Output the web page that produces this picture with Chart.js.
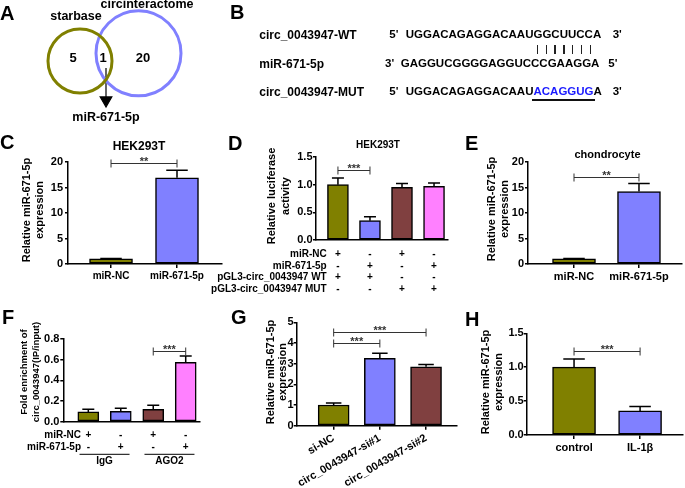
<!DOCTYPE html>
<html lang="en">
<head>
<meta charset="UTF-8" />
<title>circ_0043947 / miR-671-5p</title>
<script src="https://cdn.jsdelivr.net/npm/chart.js"></script>
<style>
  html, body { margin: 0; padding: 0; background: #fff; }
  #fig { position: relative; width: 685px; height: 488px; overflow: hidden; background: #fff;
         font-family: "Liberation Sans", Arial, Helvetica, sans-serif; font-weight: bold; color: #000; }
  #fig canvas { position: absolute; left: 0; top: 0; }
  .t { position: absolute; white-space: pre; line-height: 1; }
  .pl { font-size: 20px; }
  .pair { position: absolute; width: 1.2px; height: 9px; background: #222; }
</style>
</head>
<body>
<div id="fig">
  <canvas id="venn" width="685" height="488"></canvas>
  <canvas id="chC" width="685" height="488"></canvas>
  <canvas id="chD" width="685" height="488"></canvas>
  <canvas id="chE" width="685" height="488"></canvas>
  <canvas id="chF" width="685" height="488"></canvas>
  <canvas id="chG" width="685" height="488"></canvas>
  <canvas id="chH" width="685" height="488"></canvas>

  <div class="t pl" style="left:0px;top:3px">A</div>
  <div class="t pl" style="left:230px;top:2px">B</div>
  <div class="t pl" style="left:0px;top:132px">C</div>
  <div class="t pl" style="left:228px;top:133px">D</div>
  <div class="t pl" style="left:465px;top:133px">E</div>
  <div class="t pl" style="left:2px;top:307px">F</div>
  <div class="t pl" style="left:231px;top:307px">G</div>
  <div class="t pl" style="left:465px;top:309px">H</div>

  <div id="seqB"></div>
</div>

<script>
  const FONT = '"Liberation Sans", Arial, Helvetica, sans-serif';
  const W = 685, H = 488;

  // ---- A: venn
  const vennSets = ['starbase', 'circinteractome'];
  const vennCounts = [5, 1, 20];
  const vennTarget = 'miR-671-5p';

  // ---- B: sequences
  const seqNames = ['circ_0043947-WT', 'miR-671-5p', 'circ_0043947-MUT'];
  const seqWT = 'UGGACAGAGGACAAUGGCUUCCA';
  const seqMiR = 'GAGGUCGGGGAGGUCCCGAAGGA';
  const seqMutHead = 'UGGACAGAGGACAAU';
  const seqMutSite = 'ACAGGUG';
  const seqMutTail = 'A';

  // ---- C
  const cLabels = ['miR-NC', 'miR-671-5p'];
  const cMean = [1.0, 16.9];
  const cSd = [0.1, 1.5];
  const cSig = [{ from: 0, to: 1, stars: '**', at: 19.9 }];

  // ---- D
  const dMean = [1.0, 0.35, 0.95, 0.97];
  const dSd = [0.12, 0.07, 0.07, 0.06];
  const dRows = ['miR-NC', 'miR-671-5p', 'pGL3-circ_0043947 WT', 'pGL3-circ_0043947 MUT'];
  const dSigns = [['+', '-', '+', '-'], ['-', '+', '-', '+'], ['+', '+', '-', '-'], ['-', '-', '+', '+']];
  const dSig = [{ from: 0, to: 1, stars: '***', at: 1.265 }];

  // ---- E
  const eLabels = ['miR-NC', 'miR-671-5p'];
  const eMean = [1.0, 14.2];
  const eSd = [0.1, 1.6];
  const eSig = [{ from: 0, to: 1, stars: '**', at: 17.1 }];

  // ---- F
  const fMean = [0.095, 0.10, 0.12, 0.575];
  const fSd = [0.025, 0.03, 0.04, 0.06];
  const fRows = ['miR-NC', 'miR-671-5p'];
  const fSigns = [['+', '-', '+', '-'], ['-', '+', '-', '+']];
  const fGroups = [{ text: 'IgG', from: 0, to: 1 }, { text: 'AGO2', from: 2, to: 3 }];
  const fSig = [{ from: 2, to: 3, stars: '***', at: 0.68 }];

  // ---- G
  const gLabels = ['si-NC', 'circ_0043947-si#1', 'circ_0043947-si#2'];
  const gMean = [1.0, 3.26, 2.85];
  const gSd = [0.1, 0.24, 0.11];
  const gSig = [{ from: 0, to: 1, stars: '***', at: 3.98 }, { from: 0, to: 2, stars: '***', at: 4.54 }];

  // ---- H
  const hLabels = ['control', 'IL-1β'];
  const hMean = [1.0, 0.355];
  const hSd = [0.12, 0.065];
  const hSig = [{ from: 0, to: 1, stars: '***', at: 1.24 }];

  const OLIVE = '#808000', BLUE = '#8080FF', BROWN = '#804040', PINK = '#FF80FF';

  Chart.defaults.font.family = FONT;
  Chart.defaults.font.weight = 'bold';
  Chart.defaults.color = '#000';

  const bold = s => `bold ${s}px ${FONT}`;

  // error bars, significance brackets, titles, +/- tables
  const decor = {
    id: 'decor',
    afterDatasetsDraw(chart, args, o) {
      const { ctx, scales: { x, y } } = chart;
      const meta = chart.getDatasetMeta(0);
      const vals = chart.data.datasets[0].data;
      ctx.save();
      ctx.strokeStyle = '#000';
      ctx.lineWidth = 1.5;
      o.sd.forEach((s, i) => {
        const px = x.getPixelForValue(i);
        const top = y.getPixelForValue(vals[i].y);
        const end = y.getPixelForValue(vals[i].y + s);
        const half = Math.max(6, meta.data[i].width * 0.25);
        ctx.beginPath();
        ctx.moveTo(px, top); ctx.lineTo(px, end);
        ctx.moveTo(px - half, end); ctx.lineTo(px + half, end);
        ctx.stroke();
      });
      ctx.strokeStyle = '#333';
      ctx.fillStyle = '#333';
      ctx.lineWidth = 1;
      ctx.textAlign = 'center';
      ctx.textBaseline = 'alphabetic';
      ctx.font = bold(o.starSize || 11);
      (o.sig || []).forEach(b => {
        const x1 = x.getPixelForValue(b.from), x2 = x.getPixelForValue(b.to);
        const yy = Math.round(y.getPixelForValue(b.at)) + 0.5;
        ctx.beginPath();
        ctx.moveTo(x1, yy); ctx.lineTo(x2, yy);
        ctx.moveTo(x1, yy - 4); ctx.lineTo(x1, yy + 4);
        ctx.moveTo(x2, yy - 4); ctx.lineTo(x2, yy + 4);
        ctx.stroke();
        ctx.fillText(b.stars, (x1 + x2) / 2, yy + 1);
      });
      ctx.restore();
    },
    afterDraw(chart, args, o) {
      const { ctx, scales: { x } } = chart;
      ctx.save();
      ctx.fillStyle = '#000';
      ctx.textBaseline = 'middle';
      if (o.head) {
        ctx.font = bold(o.head.size);
        ctx.textAlign = 'center';
        ctx.fillText(o.head.text, o.head.x, o.head.y);
      }
      if (o.yTitle) {
        ctx.font = bold(o.yTitle.size);
        ctx.textAlign = 'center';
        o.yTitle.lines.forEach((t, i) => {
          ctx.save();
          ctx.translate(o.yTitle.x[i], o.yTitle.cy);
          ctx.rotate(-Math.PI / 2);
          ctx.fillText(t, 0, 0);
          ctx.restore();
        });
      }
      if (o.table) {
        ctx.font = bold(o.table.size);
        o.table.rows.forEach((r, k) => {
          const yy = o.table.y[k];
          ctx.textAlign = 'right';
          ctx.fillText(r, o.table.labelX, yy);
          ctx.textAlign = 'center';
          o.table.signs[k].forEach((s, i) => ctx.fillText(s, x.getPixelForValue(i), yy));
        });
      }
      if (o.groups) {
        const unit = x.getPixelForValue(1) - x.getPixelForValue(0);
        ctx.strokeStyle = '#000';
        ctx.lineWidth = 1;
        ctx.font = bold(o.groups.size);
        ctx.textAlign = 'center';
        o.groups.items.forEach(g => {
          const mid = (x.getPixelForValue(g.from) + x.getPixelForValue(g.to)) / 2;
          ctx.beginPath();
          ctx.moveTo(mid - 0.77 * unit, o.groups.lineY);
          ctx.lineTo(mid + 0.77 * unit, o.groups.lineY);
          ctx.stroke();
          ctx.fillText(g.text, mid, o.groups.textY);
        });
      }
      ctx.restore();
    }
  };

  function barPanel(id, lay, labels, mean, sd, colors, extra) {
    const yW = 34;               // y scale box width (tick labels are clipped to it)
    const xH = H - lay.bottom;   // x scale box runs to the bottom of the canvas
    return new Chart(document.getElementById(id), {
      type: 'bar',
      data: {
        datasets: [{
          data: mean.map((v, i) => ({ x: i, y: v })),
          backgroundColor: colors,
          borderColor: '#000',
          borderWidth: 1.5,
          borderSkipped: false,
          barThickness: lay.bar
        }]
      },
      options: {
        responsive: false,
        animation: false,
        events: [],
        layout: { autoPadding: false, padding: { left: lay.ax - yW, top: lay.top, right: W - lay.end, bottom: 0 } },
        plugins: {
          legend: { display: false },
          tooltip: { enabled: false },
          decor: Object.assign({ sd }, extra)
        },
        scales: {
          x: {
            type: 'linear',
            min: lay.min,
            max: lay.max,
            offset: false,
            afterBuildTicks: s => { s.ticks = mean.map((_, i) => ({ value: i })); },
            afterFit: s => { s.height = xH; s.paddingLeft = 0; s.paddingRight = 0; },
            border: { color: '#000', width: 1.5 },
            grid: { drawOnChartArea: false, drawTicks: lay.xTicks, tickLength: 4, color: '#000', lineWidth: 1.5, offset: false },
            ticks: {
              display: !!labels,
              autoSkip: false,
              padding: 2,
              color: '#000',
              font: { size: lay.xFont || 10, weight: 'bold' },
              minRotation: lay.rot || 0,
              maxRotation: lay.rot || 0,
              callback: v => (labels ? labels[Math.round(v)] : '')
            }
          },
          y: {
            min: 0,
            max: lay.yMax,
            afterFit: s => { s.width = yW; s.paddingTop = 0; s.paddingBottom = 0; },
            border: { color: '#000', width: 1.5 },
            grid: { drawOnChartArea: false, tickLength: 3, color: '#000', lineWidth: 1.5 },
            ticks: {
              stepSize: lay.step,
              padding: lay.yPad === undefined ? 1 : lay.yPad,
              color: '#000',
              font: { size: 11, weight: 'bold' },
              callback: v => Number(v).toFixed(lay.dec)
            }
          }
        }
      },
      plugins: [decor]
    });
  }

  // ---- A
  const vennText = {
    id: 'vennText',
    afterDatasetsDraw(chart, args, o) {
      const { ctx, scales: { x, y } } = chart;
      ctx.save();
      ctx.fillStyle = '#000';
      ctx.textAlign = 'center';
      ctx.textBaseline = 'middle';
      o.items.forEach(it => {
        ctx.font = bold(it.size);
        ctx.fillText(it.text, x.getPixelForValue(it.x), y.getPixelForValue(it.y));
      });
      ctx.restore();
    }
  };

  new Chart(document.getElementById('venn'), {
    type: 'bubble',
    data: {
      datasets: [
        { data: [{ x: 8.0, y: 6.1, r: 32 }], borderColor: OLIVE, backgroundColor: 'rgba(0,0,0,0)', borderWidth: 3, clip: false },
        { data: [{ x: 13.85, y: 5.33, r: 42.5 }], borderColor: BLUE, backgroundColor: 'rgba(0,0,0,0)', borderWidth: 3, clip: false },
        {
          type: 'line',
          data: [{ x: 10.6, y: 6.8 }, { x: 10.6, y: 10.03 }],
          borderColor: '#000', borderWidth: 1.2,
          pointRadius: [0, 6.7], pointStyle: 'triangle', pointRotation: 180,
          pointBackgroundColor: '#000', pointBorderColor: '#000', clip: false
        }
      ]
    },
    options: {
      responsive: false,
      animation: false,
      events: [],
      layout: { autoPadding: false, padding: { left: 0, top: 0, right: W - 230, bottom: H - 130 } },
      plugins: {
        legend: { display: false },
        tooltip: { enabled: false },
        vennText: {
          items: [
            { text: vennSets[0], x: 7.6, y: 1.7, size: 12.5 },
            { text: vennSets[1], x: 14.7, y: 0.45, size: 12.5 },
            { text: String(vennCounts[0]), x: 7.3, y: 5.8, size: 13 },
            { text: String(vennCounts[1]), x: 10.3, y: 5.8, size: 13 },
            { text: String(vennCounts[2]), x: 14.3, y: 5.8, size: 13 },
            { text: vennTarget, x: 10.6, y: 11.8, size: 12.5 }
          ]
        }
      },
      scales: {
        x: { type: 'linear', display: false, min: 0, max: 23 },
        y: { type: 'linear', display: false, min: 0, max: 13, reverse: true }
      }
    },
    plugins: [vennText]
  });

  // ---- B (text)
  (function () {
    const host = document.getElementById('seqB');
    const put = (html, left, cy, size) => {
      const d = document.createElement('div');
      d.className = 't';
      d.style.fontSize = size + 'px';
      d.style.left = left + 'px';
      d.style.top = (cy - 0.49 * size) + 'px';
      d.innerHTML = html;
      host.appendChild(d);
    };
    const rows = [35, 63.8, 91.5];
    const S = 11.5;
    put(seqNames[0], 259.3, rows[0], 12);
    put("5'", 389.3, rows[0], S);
    put(seqWT, 405.7, rows[0], S);
    put("3'", 612.7, rows[0], S);
    put(seqNames[1], 259.3, rows[1], 12);
    put("3'", 385, rows[1], S);
    put(seqMiR, 400.7, rows[1], S);
    put("5'", 608.3, rows[1], S);
    put(seqNames[2], 259.3, rows[2], 12);
    put("5'", 389.3, rows[2], S);
    put(seqMutHead + '<span style="color:#1a1aff">' + seqMutSite + '</span>' + seqMutTail, 405.7, rows[2], S);
    put("3'", 612.7, rows[2], S);
    for (let i = 0; i < 7; i++) {
      const p = document.createElement('div');
      p.className = 'pair';
      p.style.left = (536.7 + i * 8.88) + 'px';
      p.style.top = '45px';
      host.appendChild(p);
    }
    const u = document.createElement('div');
    u.style.cssText = 'position:absolute;left:531.7px;top:99px;width:63.3px;height:2px;background:#111';
    host.appendChild(u);
  })();

  // ---- C
  barPanel('chC',
    { ax: 68, top: 162, bottom: 264, end: 222, min: -0.652, max: 1.682, bar: 43, yMax: 20, step: 5, dec: 0, xTicks: true, xFont: 10, yPad: 2 },
    cLabels, cMean, cSd, [OLIVE, BLUE],
    { sig: cSig, head: { text: 'HEK293T', x: 139, y: 147, size: 12 },
      yTitle: { lines: ['Relative miR-671-5p', 'expression'], x: [27, 40], cy: 210, size: 11 } });

  // ---- D
  barPanel('chD',
    { ax: 316, top: 157, bottom: 240, end: 448, min: -0.685, max: 3.436, bar: 21, yMax: 1.5, step: 0.5, dec: 1, xTicks: false, yPad: 0.5 },
    null, dMean, dSd, [OLIVE, BLUE, BROWN, PINK],
    { sig: dSig, head: { text: 'HEK293T', x: 378, y: 145, size: 10 },
      yTitle: { lines: ['Relative luciferase', 'activity'], x: [272, 286], cy: 196, size: 11 },
      table: { rows: dRows, signs: dSigns, y: [254.3, 266.3, 277.7, 289.3], labelX: 326.7, size: 10 } });

  // ---- E
  barPanel('chE',
    { ax: 528, top: 162, bottom: 264, end: 682, min: -0.708, max: 1.662, bar: 43, yMax: 20, step: 5, dec: 0, xTicks: true, xFont: 11 },
    eLabels, eMean, eSd, [OLIVE, BLUE],
    { sig: eSig, head: { text: 'chondrocyte', x: 607.5, y: 155, size: 11 },
      yTitle: { lines: ['Relative miR-671-5p', 'expression'], x: [492, 505], cy: 209, size: 11 } });

  // ---- F
  barPanel('chF',
    { ax: 63.3, top: 339, bottom: 421.7, end: 200, min: -0.77, max: 3.44, bar: 21, yMax: 0.8, step: 0.2, dec: 1, xTicks: false },
    null, fMean, fSd, [OLIVE, BLUE, BROWN, PINK],
    { sig: fSig,
      yTitle: { lines: ['Fold enrichment of', 'circ_0043947(IP/input)'], x: [24, 36], cy: 372, size: 9.5 },
      table: { rows: fRows, signs: fSigns, y: [435, 447.3], labelX: 81, size: 10 },
      groups: { items: fGroups, lineY: 454.3, textY: 461, size: 10 } });

  // ---- G
  barPanel('chG',
    { ax: 296.7, top: 322.3, bottom: 425.7, end: 457, min: -0.8, max: 2.67, bar: 31, yMax: 5, step: 1, dec: 0, xTicks: true, xFont: 11, rot: 30, yPad: 0 },
    gLabels, gMean, gSd, [OLIVE, BLUE, BROWN],
    { sig: gSig,
      yTitle: { lines: ['Relative miR-671-5p', 'expression'], x: [270.7, 283.3], cy: 372, size: 11 } });

  // ---- H
  barPanel('chH',
    { ax: 526.7, top: 333.3, bottom: 435, end: 683, min: -0.717, max: 1.65, bar: 43, yMax: 1.5, step: 0.5, dec: 1, xTicks: true, xFont: 11, yPad: 0 },
    hLabels, hMean, hSd, [OLIVE, BLUE],
    { sig: hSig,
      yTitle: { lines: ['Relative miR-671-5p', 'expression'], x: [486, 499.3], cy: 382, size: 11 } });
</script>
</body>
</html>
